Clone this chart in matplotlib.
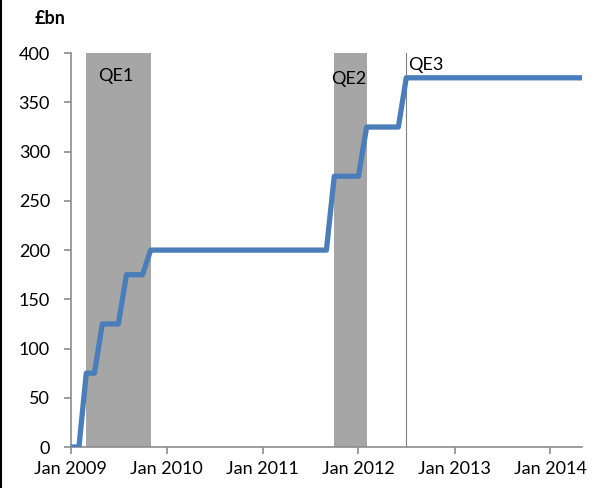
import matplotlib
matplotlib.use('Agg')
import matplotlib.pyplot as plt
import matplotlib.dates as mdates
from matplotlib.lines import Line2D
import pandas as pd

# cumulative asset purchases, monthly, Jan 2009 - May 2014 (GBP bn)
months = pd.date_range('2009-01-01', '2014-05-01', freq='MS')
stock = ([0, 0] + [75, 75] + [125, 125, 125] + [175, 175, 175]
         + [200] * 23 + [275] * 4 + [325] * 5 + [375] * 23)

qe1 = ('2009-03-01', '2009-11-01')
qe2 = ('2011-10-01', '2012-02-01')
qe3 = '2012-07-01'

plt.rcParams['font.family'] = ['Lato', 'DejaVu Sans']

fig = plt.figure(figsize=(6, 4.88), dpi=100)
ax = fig.add_axes([0.118, 0.084, 0.852, 0.807])

shade = '#a6a6a6'
ax.axvspan(pd.Timestamp(qe1[0]), pd.Timestamp(qe1[1]), color=shade, lw=0, zorder=1)
ax.axvspan(pd.Timestamp(qe2[0]), pd.Timestamp(qe2[1]), color=shade, lw=0, zorder=1)
ax.axvline(pd.Timestamp(qe3), color='#808080', lw=0.8, zorder=1)

ax.plot(months, stock, color='#4a7ebb', lw=3.8, solid_capstyle='butt',
        solid_joinstyle='round', zorder=3)

ax.text(pd.Timestamp('2009-04-15'), 385, 'QE1', fontsize=13, va='top', ha='left')
ax.text(pd.Timestamp('2011-09-20'), 382, 'QE2', fontsize=13, va='top', ha='left')
ax.text(pd.Timestamp('2012-07-10'), 396, 'QE3', fontsize=13, va='top', ha='left')

ax.set_xlim(pd.Timestamp('2009-01-01'), pd.Timestamp('2014-05-01'))
ax.set_ylim(0, 400)
ax.set_yticks(range(0, 401, 50))
ax.xaxis.set_major_locator(mdates.YearLocator())
ax.xaxis.set_major_formatter(mdates.DateFormatter('Jan %Y'))

for s in ['top', 'right']:
    ax.spines[s].set_visible(False)
for s in ['left', 'bottom']:
    ax.spines[s].set_color('#8c8c8c')
    ax.spines[s].set_linewidth(1.2)
ax.tick_params(colors='#8c8c8c', length=5, width=1.2, labelsize=13,
               labelcolor='black', direction='out')
ax.tick_params(axis='y', pad=10)
ax.tick_params(axis='x', pad=5)

fig.text(0.058, 0.962, '£bn', fontsize=13, fontweight='bold', va='center')
fig.add_artist(Line2D([0.002, 0.002], [0, 1], color='black', lw=1.5,
                      transform=fig.transFigure))

fig.savefig('out.png', dpi=100)
